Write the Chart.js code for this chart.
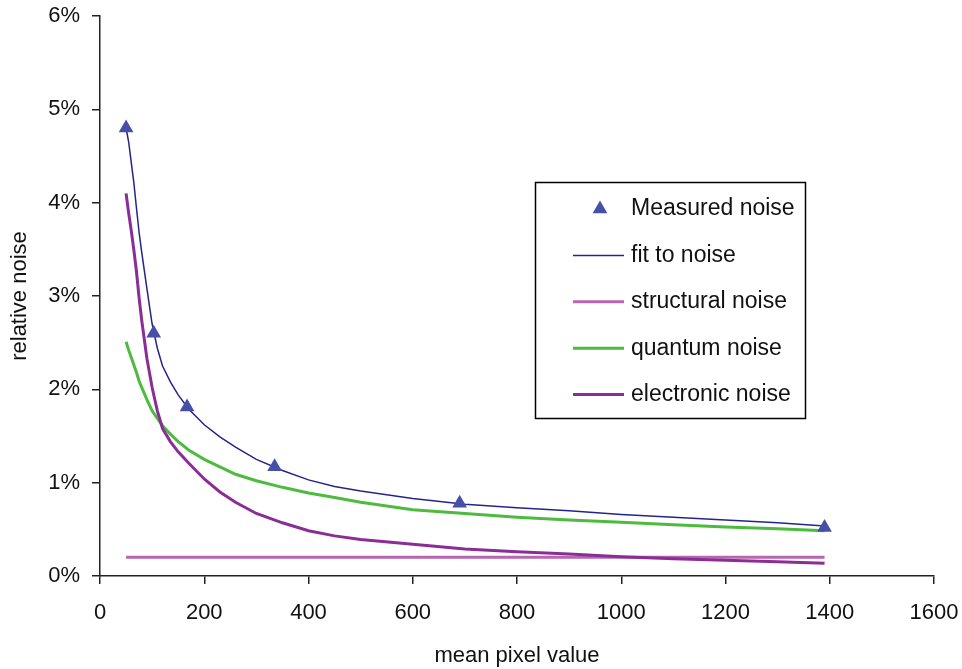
<!DOCTYPE html>
<html>
<head>
<meta charset="utf-8">
<title>relative noise</title>
<script src="https://cdn.jsdelivr.net/npm/chart.js@4.4.1/dist/chart.umd.min.js"></script>
<style>
  html, body { margin: 0; padding: 0; background: #fff; }
  #wrap { width: 962px; height: 669px; position: relative; }
</style>
</head>
<body>
<div id="wrap"><canvas id="noiseChart"></canvas></div>
<script>
// values (y in %)
var measuredX = [50, 103, 167, 335, 690, 1390];
var measuredY = [4.80, 2.60, 1.81, 1.17, 0.78, 0.52];

var lineX = [50, 55, 60, 65, 70, 75, 80, 90, 100, 110, 120, 135, 150, 170, 200, 230, 260, 300, 350, 400, 450, 500, 600, 700, 800, 900, 1000, 1100, 1200, 1300, 1390];
var fitY = [4.80, 4.65, 4.43, 4.21, 3.94, 3.68, 3.47, 3.08, 2.70, 2.44, 2.25, 2.08, 1.94, 1.79, 1.62, 1.49, 1.38, 1.25, 1.13, 1.03, 0.96, 0.91, 0.83, 0.77, 0.73, 0.70, 0.66, 0.63, 0.60, 0.57, 0.535];
var quantumY = [2.51, 2.42, 2.34, 2.26, 2.18, 2.09, 2.02, 1.89, 1.77, 1.69, 1.61, 1.52, 1.44, 1.35, 1.25, 1.17, 1.09, 1.02, 0.95, 0.89, 0.84, 0.79, 0.71, 0.67, 0.63, 0.60, 0.575, 0.55, 0.525, 0.505, 0.485];
var electronicY = [4.10, 3.89, 3.70, 3.49, 3.26, 2.98, 2.74, 2.33, 2.02, 1.77, 1.58, 1.44, 1.33, 1.21, 1.04, 0.90, 0.79, 0.67, 0.57, 0.485, 0.43, 0.39, 0.34, 0.29, 0.26, 0.235, 0.205, 0.185, 0.17, 0.152, 0.137];

var structuralX = [50, 1390];
var structuralY = [0.2, 0.2];

var xTicks = [0, 200, 400, 600, 800, 1000, 1200, 1400, 1600];
var yTicks = [0, 1, 2, 3, 4, 5, 6];

var legendOrder = ['Measured noise', 'fit to noise', 'structural noise', 'quantum noise', 'electronic noise'];

function pts(xs, ys) {
    return xs.map(function(x, i) { return { x: x, y: ys[i] }; });
}

var FONT = '"Liberation Sans", Arial, sans-serif';

// legend box drawn inside the plot, like the original
var boxLegend = {
    id: 'boxLegend',
    afterDraw: function(chart) {
        var ctx = chart.ctx;
        var left = 535, top = 182, w = 270, h = 236;
        ctx.save();
        ctx.fillStyle = '#fff';
        ctx.fillRect(left, top, w, h);
        ctx.strokeStyle = '#000';
        ctx.lineWidth = 1.5;
        ctx.strokeRect(left + 0.5, top + 0.5, w, h);
        ctx.font = '23px ' + FONT;
        ctx.textBaseline = 'middle';
        legendOrder.forEach(function(label, i) {
            var ds = chart.data.datasets.find(function(d) { return d.label === label; });
            var y = top + 27 + i * 46.4;
            if (ds.showLine === false) {
                var r = ds.pointRadius;
                ctx.beginPath();
                ctx.moveTo(600, y - r);
                ctx.lineTo(600 + r * 0.866, y + r * 0.5);
                ctx.lineTo(600 - r * 0.866, y + r * 0.5);
                ctx.closePath();
                ctx.fillStyle = ds.backgroundColor;
                ctx.fill();
            } else {
                ctx.beginPath();
                ctx.strokeStyle = ds.borderColor;
                ctx.lineWidth = ds.borderWidth;
                ctx.moveTo(573, y);
                ctx.lineTo(624, y);
                ctx.stroke();
            }
            ctx.fillStyle = '#111';
            ctx.fillText(label, 631, y);
        });
        ctx.restore();
    }
};

var ctx1 = document.getElementById('noiseChart').getContext('2d');
new Chart(ctx1, {
    type: 'scatter',
    data: {
        datasets: [{
            label: 'Measured noise',
            data: pts(measuredX, measuredY),
            showLine: false,
            pointStyle: 'triangle',
            pointRadius: 8.5,
            backgroundColor: '#4650a6',
            borderColor: '#4650a6',
            borderWidth: 0,
            order: 0
        }, {
            label: 'fit to noise',
            data: pts(lineX, fitY),
            showLine: true,
            borderColor: '#24248c',
            borderWidth: 1.5,
            pointRadius: 0,
            order: 1
        }, {
            label: 'electronic noise',
            data: pts(lineX, electronicY),
            showLine: true,
            borderColor: '#8a2e96',
            borderWidth: 3,
            pointRadius: 0,
            order: 2
        }, {
            label: 'quantum noise',
            data: pts(lineX, quantumY),
            showLine: true,
            borderColor: '#4dbb3e',
            borderWidth: 3,
            pointRadius: 0,
            order: 3
        }, {
            label: 'structural noise',
            data: pts(structuralX, structuralY),
            showLine: true,
            borderColor: '#b865b2',
            borderWidth: 3,
            pointRadius: 0,
            order: 4
        }]
    },
    options: {
        responsive: true,
        maintainAspectRatio: false,
        animation: false,
        layout: { padding: { top: 16, right: 28, left: 0, bottom: 0 } },
        plugins: {
            legend: { display: false },
            tooltip: { enabled: false }
        },
        scales: {
            x: {
                type: 'linear',
                min: 0,
                max: 1600,
                afterBuildTicks: function(scale) {
                    scale.ticks = xTicks.map(function(v) { return { value: v }; });
                },
                afterFit: function(scale) {
                    scale.height = 93;
                    scale.paddingLeft = 0;
                    scale.paddingRight = 0;
                },
                ticks: {
                    color: '#111',
                    padding: 16,
                    font: { size: 22, family: FONT },
                    callback: function(v) { return String(v); }
                },
                grid: { drawOnChartArea: false, drawTicks: true, tickLength: 8, color: '#222', lineWidth: 1.5 },
                border: { display: true, color: '#222', width: 1.5 },
                title: {
                    display: true,
                    text: 'mean pixel value',
                    color: '#111',
                    font: { size: 22, family: FONT },
                    padding: { top: 0, bottom: 0 }
                }
            },
            y: {
                type: 'linear',
                min: 0,
                max: 6,
                afterBuildTicks: function(scale) {
                    scale.ticks = yTicks.map(function(v) { return { value: v }; });
                },
                afterFit: function(scale) {
                    scale.width = 100;
                    scale.paddingTop = 0;
                    scale.paddingBottom = 0;
                },
                ticks: {
                    color: '#111',
                    padding: 12,
                    font: { size: 22, family: FONT },
                    callback: function(v) { return v + '%'; }
                },
                grid: { drawOnChartArea: false, drawTicks: true, tickLength: 8, color: '#222', lineWidth: 1.5 },
                border: { display: true, color: '#222', width: 1.5 },
                title: {
                    display: true,
                    text: 'relative noise',
                    color: '#111',
                    font: { size: 22, family: FONT },
                    padding: { top: 7, bottom: 0 }
                }
            }
        }
    },
    plugins: [boxLegend]
});
</script>
</body>
</html>
